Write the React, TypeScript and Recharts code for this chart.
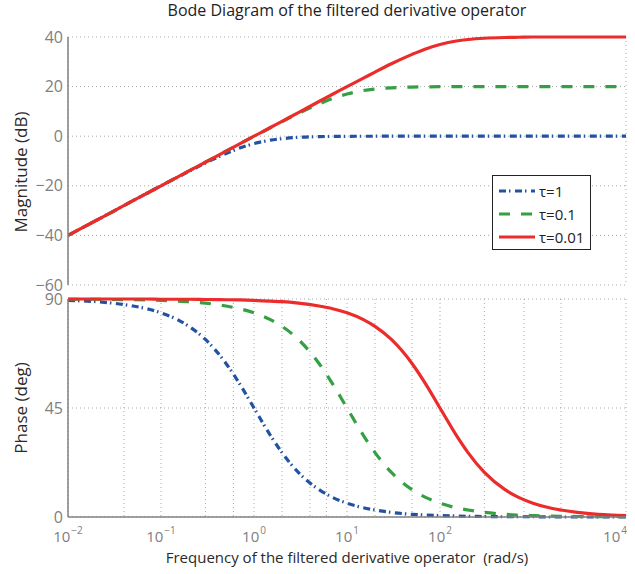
import React from "react";
import { CartesianGrid, Label, Legend, Line, LineChart, XAxis, YAxis } from "recharts";

const freq = [
  0.01, 0.02, 0.03, 0.05, 0.07, 0.1, 0.15, 0.2, 0.3, 0.5, 0.7, 1, 1.5, 2, 3, 5, 7, 10, 15, 20, 30,
  50, 70, 100, 150, 200, 300, 500, 700, 1000, 1500, 2000, 3000, 5000, 7000, 10000,
];

// magnitude (dB)
const magTau1 = [
  -40, -34, -30.5, -26, -23.1, -20, -16.6, -14.2, -10.8, -7, -4.8, -3, -1.6, -1, -0.46, -0.17, -0.09,
  -0.04, -0.02, -0.01, 0, 0, 0, 0, 0, 0, 0, 0, 0, 0, 0, 0, 0, 0, 0, 0,
];
const magTau01 = [
  -40, -34, -30.5, -26, -23.1, -20, -16.5, -14, -10.5, -6, -3.1, -0.04, 3.4, 5.85, 9.2, 13, 15.2, 17,
  18.4, 19, 19.5, 19.8, 19.9, 19.96, 20, 20, 20, 20, 20, 20, 20, 20, 20, 20, 20, 20,
];
const magTau001 = [
  -40, -34, -30.5, -26, -23.1, -20, -16.5, -14, -10.5, -6, -3.1, 0, 3.5, 6, 9.5, 14, 16.9, 20, 23.4,
  25.85, 29.2, 33, 35.2, 37, 38.4, 39, 39.5, 39.8, 39.9, 40, 40, 40, 40, 40, 40, 40,
];

// phase (deg)
const phTau1 = [
  89.4, 88.9, 88.3, 87.1, 86, 84.3, 81.5, 78.7, 73.3, 63.4, 55, 45, 33.7, 26.6, 18.4, 11.3, 8.1, 5.7,
  3.8, 2.9, 1.9, 1.1, 0.8, 0.6, 0.4, 0.3, 0.2, 0.1, 0.1, 0.1, 0, 0, 0, 0, 0, 0,
];
const phTau01 = [
  89.9, 89.9, 89.8, 89.7, 89.6, 89.4, 89.1, 88.9, 88.3, 87.1, 86, 84.3, 81.5, 78.7, 73.3, 63.4, 55, 45,
  33.7, 26.6, 18.4, 11.3, 8.1, 5.7, 3.8, 2.9, 1.9, 1.1, 0.8, 0.6, 0.4, 0.3, 0.2, 0.1, 0.1, 0.1,
];
const phTau001 = [
  90, 90, 90, 90, 90, 89.9, 89.9, 89.9, 89.8, 89.7, 89.6, 89.4, 89.1, 88.9, 88.3, 87.1, 86, 84.3,
  81.5, 78.7, 73.3, 63.4, 55, 45, 33.7, 26.6, 18.4, 11.3, 8.1, 5.7, 3.8, 2.9, 1.9, 1.1, 0.8, 0.6,
];

const decadeTicks = [0.01, 0.1, 1, 10, 100, 1000, 10000];
const magTicks = [-60, -40, -20, 0, 20, 40];
const phaseTicks = [0, 45, 90];
const seriesNames = ["τ=1", "τ=0.1", "τ=0.01"];

const FONT = "'Open Sans', sans-serif";
const GRAY = "#808080";
const GRID = "#a8a8a8";
const BLUE = "#2352a3";
const GREEN = "#35a043";
const RED = "#ec2b2b";

const styles = [
  { color: BLUE, dash: "7 3 1.5 4.5" },
  { color: GREEN, dash: "11 11" },
  { color: RED, dash: undefined },
];

// minor log grid: 1..9 x each decade
const gridTicks: number[] = [];
decadeTicks.slice(0, -1).forEach((d) => {
  for (let m = 1; m <= 9; m++) gridTicks.push(+(m * d).toPrecision(3));
});
gridTicks.push(10000);

const magData = freq.map((w, i) => ({ w, a: magTau1[i], b: magTau01[i], c: magTau001[i] }));
const phaseData = freq.map((w, i) => ({ w, a: phTau1[i], b: phTau01[i], c: phTau001[i] }));

const XTick = (props: any) => {
  const { x, y, payload } = props;
  const lg = Math.log10(payload.value);
  const e = Math.round(lg);
  if (Math.abs(lg - e) > 1e-6) return <g />;
  return (
    <text x={x} y={y + 25} textAnchor="middle" fill={GRAY} fontSize={15} fontFamily={FONT}>
      10
      <tspan dx={1} dy={-8} fontSize={10}>
        {e < 0 ? `\u2212${-e}` : e}
      </tspan>
    </text>
  );
};

const yLabel = (text: string, cy: number) => () => {
  const cx = 27;
  return (
    <text
      x={cx}
      y={cy}
      transform={`rotate(-90 ${cx} ${cy})`}
      textAnchor="middle"
      fill="#2a2a2a"
      fontSize={17}
      fontFamily={FONT}
    >
      {text}
    </text>
  );
};

const LegendBox = () => (
  <div
    style={{
      width: 99,
      height: 75,
      border: "1.5px solid #222",
      background: "#fff",
      fontFamily: FONT,
      fontSize: 15,
      color: "#222",
      boxSizing: "border-box",
      paddingTop: 3,
    }}
  >
    {seriesNames.map((n, i) => (
      <div key={n} style={{ display: "flex", alignItems: "center", height: 23 }}>
        <svg width={42} height={10} style={{ marginLeft: 4 }}>
          <line
            x1={2}
            x2={38}
            y1={5}
            y2={5}
            stroke={styles[i].color}
            strokeWidth={3}
            strokeDasharray={styles[i].dash}
          />
        </svg>
        <span>{n}</span>
      </div>
    ))}
  </div>
);

const lines = (["a", "b", "c"] as const).map((k, i) => (
  <Line
    key={k}
    dataKey={k}
    name={seriesNames[i]}
    type="monotone"
    stroke={styles[i].color}
    strokeWidth={3.2}
    strokeDasharray={styles[i].dash}
    dot={false}
    isAnimationActive={false}
  />
));

const axisProps = {
  dataKey: "w",
  type: "number" as const,
  scale: "log" as const,
  domain: [0.01, 10000],
  ticks: gridTicks,
  allowDataOverflow: true,
};

const yTick = { fill: GRAY, fontSize: 16, fontFamily: FONT };
const fmtY = (v: number) => String(v).replace("-", "\u2212");

export default function App() {
  return (
    <div style={{ position: "absolute", left: 0, top: 0, width: 635, height: 574, background: "#fff" }}>
      <div
        style={{
          position: "absolute",
          top: 0,
          left: 68,
          width: 558,
          textAlign: "center",
          fontFamily: FONT,
          fontSize: 16,
          lineHeight: "20px",
          color: "#222",
        }}
      >
        Bode Diagram of the filtered derivative operator
      </div>

      <div style={{ position: "absolute", left: 0, top: 0 }}>
        <LineChart width={635} height={574} data={magData} margin={{ top: 37, right: 9, bottom: 289, left: 0 }}>
          <CartesianGrid stroke={GRID} strokeDasharray="1 3" />
          <XAxis {...axisProps} tick={false} tickLine={false} height={0} axisLine={{ stroke: GRAY, strokeWidth: 1.5 }} />
          <XAxis xAxisId="top" orientation="top" {...axisProps} tick={false} tickLine={false} height={0} axisLine={{ stroke: GRAY, strokeWidth: 1.5 }} />
          <YAxis
            domain={[-60, 40]}
            ticks={magTicks}
            width={68}
            tickLine={false}
            tickSize={0}
            tickMargin={5}
            tickFormatter={fmtY}
            axisLine={{ stroke: GRAY, strokeWidth: 1.5 }}
            tick={yTick}
          >
            <Label content={yLabel("Magnitude (dB)", 172)} />
          </YAxis>
          <YAxis yAxisId="right" orientation="right" width={0} tick={false} tickLine={false} axisLine={{ stroke: GRAY, strokeWidth: 1.5 }} />
          {lines}
          <Legend
            layout="vertical"
            align="center"
            verticalAlign="middle"
            content={<LegendBox />}
            wrapperStyle={{ left: 492, top: 175, width: 99, height: 75 }}
          />
        </LineChart>
      </div>

      <div style={{ position: "absolute", left: 0, top: 0 }}>
        <LineChart width={635} height={574} data={phaseData} margin={{ top: 299, right: 9, bottom: 9, left: 0 }}>
          <CartesianGrid stroke={GRID} strokeDasharray="1 3" />
          <XAxis
            {...axisProps}
            height={48}
            tickLine={false}
            tickSize={0}
            tickMargin={0}
            tick={<XTick />}
            axisLine={{ stroke: GRAY, strokeWidth: 1.5 }}
          >
            <Label
              value={"Frequency of the filtered derivative operator \u00a0(rad/s)"}
              position="insideBottom"
              offset={2}
              style={{ fill: "#2a2a2a", fontSize: 15, fontFamily: FONT }}
            />
          </XAxis>
          <XAxis xAxisId="top" orientation="top" {...axisProps} tick={false} tickLine={false} height={0} axisLine={{ stroke: GRAY, strokeWidth: 1.5 }} />
          <YAxis
            domain={[0, 90]}
            ticks={phaseTicks}
            width={68}
            tickLine={false}
            tickSize={0}
            tickMargin={5}
            axisLine={{ stroke: GRAY, strokeWidth: 1.5 }}
            tick={yTick}
          >
            <Label content={yLabel("Phase (deg)", 408)} />
          </YAxis>
          <YAxis yAxisId="right" orientation="right" width={0} tick={false} tickLine={false} axisLine={{ stroke: GRAY, strokeWidth: 1.5 }} />
          {lines}
        </LineChart>
      </div>
    </div>
  );
}
